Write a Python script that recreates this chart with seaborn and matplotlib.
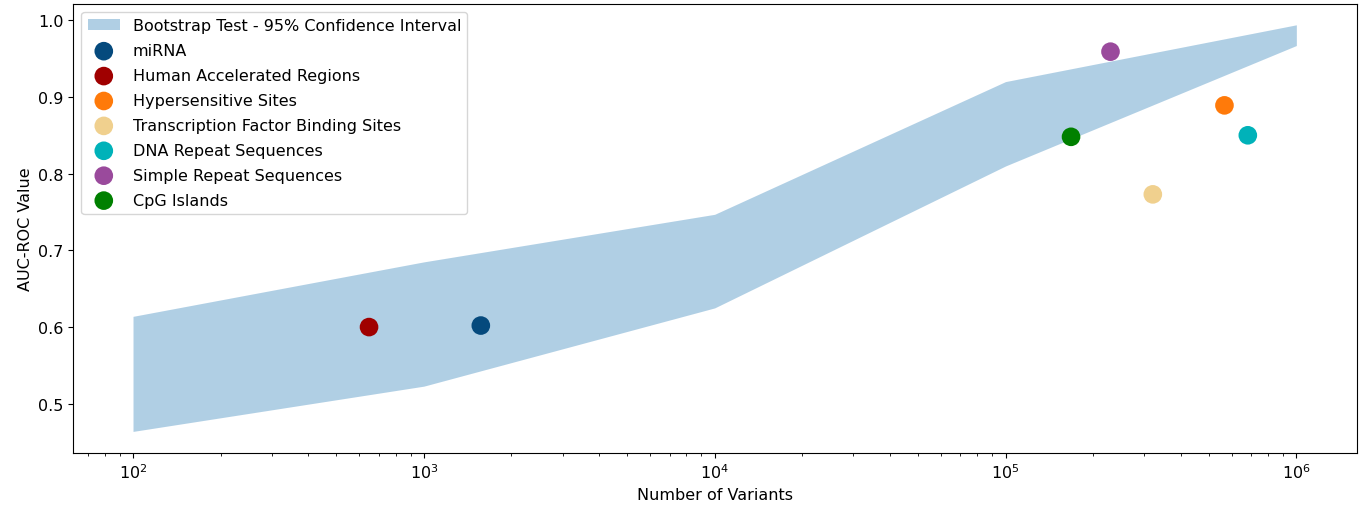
import numpy as np
import seaborn as sns
import matplotlib.pyplot as plt

# bootstrap confidence band
band_x = [1e2, 1e3, 1e4, 1e5, 1e6]
band_low = [0.464, 0.523, 0.625, 0.810, 0.967]
band_high = [0.614, 0.685, 0.747, 0.920, 0.994]

# annotated region sets
names = ['miRNA', 'Human Accelerated Regions', 'Hypersensitive Sites',
         'Transcription Factor Binding Sites', 'DNA Repeat Sequences',
         'Simple Repeat Sequences', 'CpG Islands']
n_variants = [1570, 648, 566000, 321000, 681000, 229600, 168000]
auc = [0.602, 0.600, 0.889, 0.773, 0.850, 0.959, 0.848]
colors = ['#054a7d', '#a00000', '#ff7a0a', '#f0d08e', '#00b2b9', '#9a4a9c', '#008000']

sns.set_style('ticks', {'text.color': 'black', 'axes.labelcolor': 'black',
                        'xtick.color': 'black', 'ytick.color': 'black',
                        'axes.edgecolor': 'black'})
plt.rcParams['font.family'] = ['DejaVu Sans']

fig, ax = plt.subplots(figsize=(13.6, 5.1), dpi=100)
fig.subplots_adjust(left=0.054, right=0.998, top=0.99, bottom=0.11)

ax.fill_between(band_x, band_low, band_high, color='#1f77b4', alpha=0.35,
                linewidth=0, label='Bootstrap Test - 95% Confidence Interval')

for name, n, a, c in zip(names, n_variants, auc, colors):
    sns.scatterplot(x=[n], y=[a], color=c, s=180, edgecolor='none', label=name, ax=ax)

ax.set_xscale('log')
ax.set_xlim(62.4, 1.62e6)
ax.set_ylim(0.436, 1.021)
ax.set_yticks([0.5, 0.6, 0.7, 0.8, 0.9, 1.0])
ax.set_xlabel('Number of Variants', fontsize=11.5)
ax.set_ylabel('AUC-ROC Value', fontsize=11.5)
ax.tick_params(labelsize=11.5)
for sp in ax.spines.values():
    sp.set_visible(True)

ax.legend(loc='upper left', fontsize=11.5, scatterpoints=1,
          borderaxespad=0.5, handletextpad=0.8, labelspacing=0.62)

plt.savefig('out.png')
